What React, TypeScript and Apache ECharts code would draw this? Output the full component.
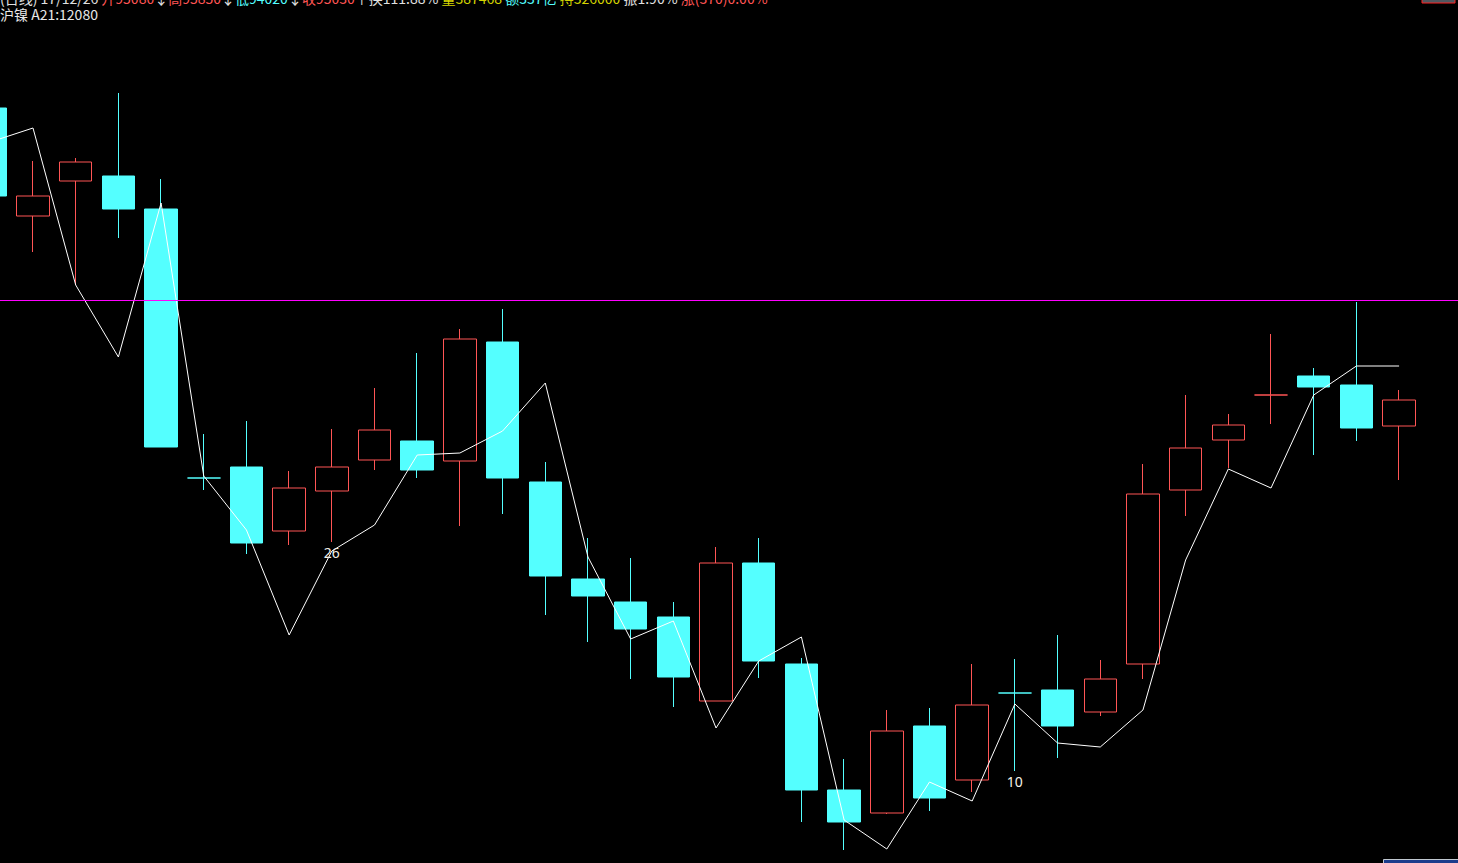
import React, { useEffect, useRef } from "react";
import * as echarts from "echarts";

// trading days, one per candle
const dates = [
  "2017-11-13", "2017-11-14", "2017-11-15", "2017-11-16", "2017-11-17",
  "2017-11-20", "2017-11-21", "2017-11-22", "2017-11-23", "2017-11-24",
  "2017-11-27", "2017-11-28", "2017-11-29", "2017-11-30", "2017-12-01",
  "2017-12-04", "2017-12-05", "2017-12-06", "2017-12-07", "2017-12-08",
  "2017-12-11", "2017-12-12", "2017-12-13", "2017-12-14", "2017-12-15",
  "2017-12-18", "2017-12-19", "2017-12-20", "2017-12-21", "2017-12-22",
  "2017-12-25", "2017-12-26", "2017-12-27", "2017-12-28",
];

const opens = [
  98920, 97840, 98190, 98240, 97910, 95220, 95330, 94690, 95090, 95400,
  95590, 95390, 96580, 95180, 94210, 93980, 93830, 92990, 94370, 93360,
  92100, 91870, 92740, 92200, 93070, 93100, 92880, 93360, 95100, 95600,
  96050, 96240, 96150, 95740,
];
const closes = [
  98040, 98040, 98380, 97910, 95530, 95220, 94570, 95120, 95330, 95700,
  95300, 96610, 95220, 94240, 94040, 93710, 93230, 94370, 93390, 92100,
  91780, 92690, 92020, 92950, 93070, 92740, 93210, 95060, 95520, 95750,
  96050, 96130, 95720, 96000,
];
const lows = [
  98000, 97480, 97150, 97620, 95530, 95100, 94460, 94550, 94580, 95300,
  95220, 94740, 94860, 93850, 93580, 93210, 92930, 92990, 93220, 91780,
  91500, 91860, 91890, 92080, 92290, 92420, 92840, 93210, 94840, 95320,
  95760, 95450, 95590, 95200,
];
const highs = [
  99000, 98390, 98420, 99070, 98210, 95660, 95790, 95290, 95710, 96120,
  96470, 96710, 96910, 95380, 94620, 94420, 93980, 94530, 94620, 93420,
  92410, 92900, 92920, 93360, 93410, 93650, 93400, 95360, 96050, 95860,
  96660, 96320, 96980, 96100,
];
// white indicator line
const lineValues = [
  98580, 98720, 97150, 96430, 97970, 95240, 94700, 93650, 94490, 94750,
  95450, 95470, 95690, 96170, 94430, 93610, 93790, 92720, 93390, 93630,
  91800, 91510, 92180, 91990, 92960, 92570, 92530, 92900, 94400, 95310,
  95120, 96050, 96340, 96340,
];
// doji candles drawn in the "down" colour
const cyanDoji = [24];
const refLevel = 97000;
const annotations = [
  { index: 8, value: 94480, text: "26" },
  { index: 24, value: 92190, text: "10" },
];
// visible window of candle indices (first candle partly off the left edge)
const xMin = 0.227;
const xMax = 34.38;

const RED = "#ff5555";
const CYAN = "#54ffff";

export default function App() {
  const ref = useRef<HTMLDivElement>(null);
  useEffect(() => {
    if (!ref.current) return;
    const chart = echarts.init(ref.current, null, { renderer: "svg" });
    const candleData = opens.map((o, i) => {
      const item: any = { name: dates[i], value: [i, o, closes[i], lows[i], highs[i]] };
      if (cyanDoji.includes(i)) {
        item.itemStyle = { borderColor: CYAN, borderColor0: CYAN, color: CYAN, color0: CYAN };
      }
      return item;
    });
    chart.setOption({
      animation: false,
      backgroundColor: "#000000",
      grid: { left: 0, top: 0, right: 0, bottom: 0, containLabel: false },
      xAxis: {
        type: "value",
        min: xMin,
        max: xMax,
        show: false,
        splitLine: { show: false },
      },
      yAxis: {
        type: "value",
        min: 91370,
        max: 100000,
        show: false,
        splitLine: { show: false },
      },
      series: [
        {
          type: "candlestick",
          data: candleData,
          encode: { x: 0, y: [1, 2, 3, 4] },
          barWidth: 33,
          itemStyle: {
            color: "#000000",
            color0: CYAN,
            borderColor: RED,
            borderColor0: CYAN,
            borderWidth: 1,
          },
          markLine: {
            silent: true,
            symbol: ["none", "none"],
            label: { show: false },
            lineStyle: { color: "#ff00ff", type: "solid", width: 1 },
            data: [{ yAxis: refLevel }],
          },
          markPoint: {
            silent: true,
            symbol: "circle",
            symbolSize: 0,
            label: {
              show: true,
              position: "inside",
              color: "#f4f0e8",
              fontSize: 14,
              fontFamily: "Noto Sans",
              formatter: (p: any) => p.name,
            },
            data: annotations.map((a) => ({ name: a.text, coord: [a.index, a.value] })),
          },
        },
        {
          type: "line",
          data: lineValues.map((v, i) => [i, v]),
          symbol: "none",
          lineStyle: { color: "#ffffff", width: 1 },
          silent: true,
        },
      ],
      graphic: [
        {
          type: "text",
          left: 0,
          top: -9,
          style: {
            text:
              "{w|(日线) 17/12/26 }{r|开95080}{w|↓}{r|高95850}{w|↓}{c|低94020}{w|↓}{r|收95030}{w|↑换111.88% }{y|量387468 }{c|额337亿 }{y|持326000 }{w|振1.90% }{r|涨(370)0.00%}",
            font: '14px "Noto Sans CJK SC"',
            rich: {
              w: { fill: "#e0e0e0", font: '14px "Noto Sans CJK SC"' },
              r: { fill: RED, font: '14px "Noto Sans CJK SC"' },
              c: { fill: CYAN, font: '14px "Noto Sans CJK SC"' },
              y: { fill: "#d4d400", font: '14px "Noto Sans CJK SC"' },
            },
          },
        },
        {
          type: "text",
          left: 0,
          top: 7,
          style: {
            text: "沪镍 A21:12080",
            fill: "#e8e8e8",
            font: '14px "Noto Sans CJK SC"',
          },
        },
        {
          type: "rect",
          shape: { x: 1422, y: -10, width: 33, height: 13 },
          style: { fill: "#505860", stroke: "#ff2020", lineWidth: 1 },
        },
        {
          type: "rect",
          shape: { x: 1383.5, y: 859.5, width: 80, height: 10 },
          style: { fill: "#1c3c8c", stroke: "#c0c8d0", lineWidth: 1 },
        },
      ],
    });
    return () => chart.dispose();
  }, []);
  return (
    <div
      ref={ref}
      style={{ position: "fixed", left: 0, top: 0, width: 1458, height: 863, background: "#000" }}
    />
  );
}
